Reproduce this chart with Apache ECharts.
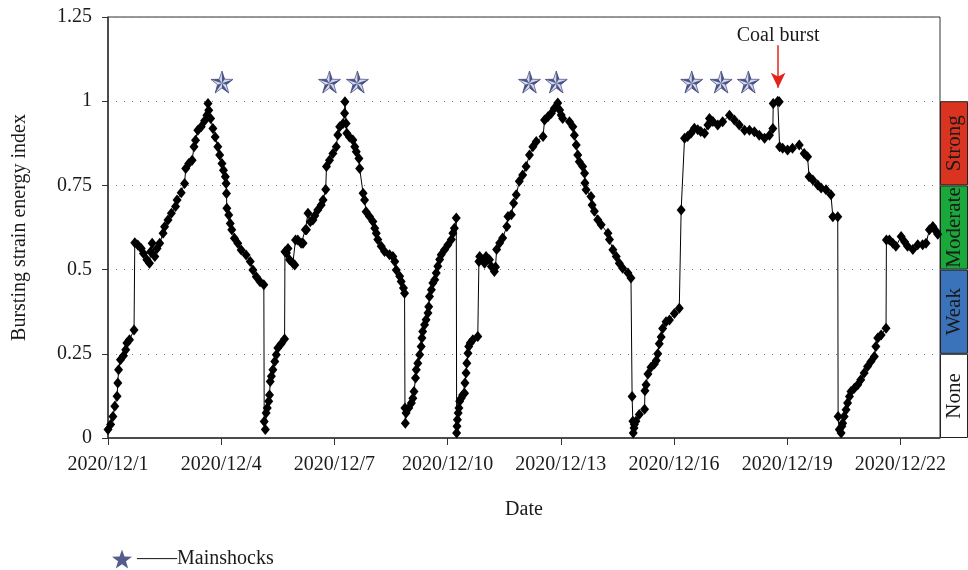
<!DOCTYPE html>
<html>
<head>
<meta charset="utf-8">
<title>Bursting strain energy index</title>
<script src="https://cdn.jsdelivr.net/npm/echarts@6/dist/echarts.min.js"></script>
<style>
  html, body { margin: 0; padding: 0; background: #fff; }
  #chart { width: 968px; height: 570px; }
</style>
</head>
<body>
<div id="chart"></div>
<script>
// Elapsed time in days since 2020/12/1 00:00
const dayOffsets = [
  0.00, 0.07, 0.13, 0.18, 0.24, 0.26, 0.28, 0.33, 0.41, 0.47, 0.50, 0.57, 0.69,
  0.71, 0.79, 0.88, 0.94, 1.03, 1.10, 1.13, 1.17, 1.24, 1.30, 1.37, 1.46, 1.50,
  1.59, 1.68, 1.79, 1.83, 1.94, 2.03, 2.06, 2.14, 2.23, 2.28, 2.32, 2.38, 2.47,
  2.56, 2.62, 2.65, 2.67, 2.72, 2.78, 2.84, 2.91, 2.96, 3.02, 3.06, 3.11, 3.13,
  3.14, 3.15, 3.20, 3.24, 3.28, 3.35, 3.44, 3.53, 3.66, 3.77, 3.84, 3.93, 4.03, 4.13,
  4.14, 4.17, 4.19, 4.22, 4.26, 4.28, 4.30, 4.33, 4.37, 4.42, 4.46, 4.50, 4.59, 4.68,
  4.69, 4.73, 4.77, 4.81, 4.90, 4.95, 4.97, 5.03, 5.12, 5.17, 5.23, 5.26, 5.30, 5.36,
  5.43, 5.48, 5.56, 5.65, 5.70, 5.77, 5.79, 5.87, 5.96, 6.05, 6.09, 6.14, 6.23, 6.27,
  6.28, 6.31, 6.33, 6.40, 6.49, 6.54, 6.58, 6.65, 6.67, 6.76, 6.80, 6.84, 6.93, 7.02,
  7.07, 7.11, 7.15, 7.24, 7.33, 7.46, 7.55, 7.60, 7.64, 7.73, 7.77, 7.83, 7.86,
  7.87, 7.88, 7.90, 7.97, 8.04, 8.08, 8.11, 8.15, 8.17, 8.21, 8.26, 8.30, 8.32, 8.34,
  8.39, 8.43, 8.48, 8.50, 8.52, 8.57, 8.61, 8.66, 8.70, 8.74, 8.79, 8.83, 8.92, 9.01,
  9.10, 9.14, 9.18, 9.23,
  9.24, 9.25, 9.26, 9.28, 9.30, 9.32, 9.36, 9.40, 9.45, 9.46, 9.49, 9.51, 9.54, 9.56,
  9.60, 9.67, 9.80, 9.83, 9.85, 9.92, 9.98, 10.02, 10.11, 10.16, 10.24, 10.27, 10.30,
  10.38, 10.46, 10.57, 10.60, 10.69, 10.75, 10.82, 10.90, 10.99, 11.08, 11.17, 11.26,
  11.35, 11.53, 11.57, 11.66, 11.75, 11.83, 11.92, 11.97, 12.01, 12.05, 12.23, 12.32,
  12.36, 12.41, 12.45, 12.49, 12.58, 12.63, 12.64, 12.67, 12.80, 12.83, 12.89, 12.98,
  13.07, 13.25, 13.29, 13.38, 13.47, 13.55, 13.64, 13.78, 13.86,
  13.89, 13.91, 13.92, 13.94, 13.95, 13.99, 14.08, 14.22, 14.23, 14.26, 14.31, 14.39,
  14.48, 14.53, 14.57, 14.61, 14.66, 14.70, 14.79, 14.88, 15.01, 15.14, 15.19, 15.28,
  15.36, 15.45, 15.54, 15.63, 15.71, 15.81, 15.90, 15.94, 16.03, 16.16, 16.29, 16.47,
  16.60, 16.73, 16.87, 17.00, 17.13, 17.26, 17.40, 17.53, 17.62, 17.63, 17.75, 17.79,
  17.80, 17.88, 18.01, 18.14, 18.32, 18.45, 18.54, 18.58, 18.68, 18.81, 18.90, 19.03,
  19.16, 19.21, 19.34,
  19.35, 19.38, 19.43, 19.45, 19.47, 19.51, 19.56, 19.60, 19.65, 19.69, 19.78, 19.87,
  19.95, 20.04, 20.13, 20.22, 20.31, 20.35, 20.40, 20.49, 20.62, 20.63, 20.71, 20.80,
  20.88, 21.02, 21.11, 21.19, 21.33, 21.46, 21.59, 21.68, 21.77, 21.86, 21.95, 21.99
];

// Bursting strain energy index at each time
const burstIndex = [
  0.025, 0.040, 0.064, 0.094, 0.124, 0.163, 0.203, 0.232, 0.244, 0.262, 0.282, 0.292, 0.321,
  0.580, 0.573, 0.563, 0.548, 0.529, 0.519, 0.553, 0.578, 0.539, 0.563, 0.578, 0.608, 0.627,
  0.647, 0.667, 0.687, 0.707, 0.728, 0.756, 0.800, 0.815, 0.825, 0.865, 0.884, 0.914, 0.924,
  0.942, 0.958, 0.993, 0.973, 0.949, 0.919, 0.894, 0.865, 0.840, 0.815, 0.795, 0.776, 0.756,
  0.726, 0.682, 0.662, 0.637, 0.618, 0.593, 0.578, 0.558, 0.543, 0.524, 0.499, 0.479, 0.464, 0.455,
  0.049, 0.025, 0.074, 0.089, 0.109, 0.128, 0.168, 0.183, 0.203, 0.227, 0.247, 0.267, 0.280, 0.294,
  0.553, 0.549, 0.563, 0.529, 0.519, 0.514, 0.588, 0.588, 0.578, 0.578, 0.618, 0.618, 0.667, 0.642,
  0.647, 0.660, 0.677, 0.692, 0.707, 0.738, 0.806, 0.825, 0.845, 0.865, 0.900, 0.924, 0.934, 0.964,
  0.998, 0.934, 0.905, 0.894, 0.885, 0.865, 0.850, 0.830, 0.800, 0.727, 0.707, 0.672, 0.658, 0.643,
  0.623, 0.608, 0.589, 0.569, 0.554, 0.544, 0.539, 0.524, 0.499, 0.480, 0.465, 0.445, 0.430,
  0.089, 0.044, 0.074, 0.089, 0.104, 0.118, 0.138, 0.178, 0.203, 0.222, 0.247, 0.272, 0.297, 0.316,
  0.336, 0.351, 0.371, 0.390, 0.420, 0.440, 0.460, 0.470, 0.490, 0.510, 0.530, 0.544, 0.559, 0.574,
  0.589, 0.608, 0.623, 0.653,
  0.015, 0.035, 0.054, 0.074, 0.089, 0.109, 0.118, 0.128, 0.133, 0.163, 0.193, 0.222, 0.252, 0.272,
  0.282, 0.292, 0.301, 0.524, 0.539, 0.529, 0.519, 0.539, 0.529, 0.509, 0.494, 0.508, 0.560,
  0.579, 0.594, 0.628, 0.658, 0.663, 0.697, 0.722, 0.762, 0.781, 0.806, 0.840, 0.865,
  0.880, 0.895, 0.944, 0.954, 0.964, 0.979, 0.995, 0.974, 0.959, 0.949, 0.939, 0.924,
  0.899, 0.870, 0.840, 0.820, 0.806, 0.786, 0.757, 0.737, 0.717, 0.692, 0.673, 0.648,
  0.633, 0.608, 0.589, 0.559, 0.539, 0.519, 0.504, 0.490, 0.475,
  0.123, 0.050, 0.015, 0.030, 0.040, 0.050, 0.070, 0.085, 0.140, 0.158, 0.190, 0.210,
  0.220, 0.230, 0.250, 0.280, 0.300, 0.325, 0.345, 0.350, 0.370, 0.385, 0.677, 0.890,
  0.895, 0.905, 0.920, 0.915, 0.910, 0.905, 0.929, 0.949, 0.940, 0.929, 0.939, 0.958,
  0.944, 0.929, 0.914, 0.914, 0.909, 0.899, 0.890, 0.899, 0.919, 0.993, 1.000, 0.998,
  0.865, 0.860, 0.855, 0.860, 0.870, 0.845, 0.835, 0.776, 0.766, 0.751, 0.742, 0.737,
  0.722, 0.657, 0.657,
  0.064, 0.025, 0.015, 0.035, 0.044, 0.064, 0.084, 0.104, 0.123, 0.138, 0.148, 0.158,
  0.173, 0.193, 0.212, 0.227, 0.242, 0.272, 0.297, 0.306, 0.326, 0.588, 0.588, 0.578,
  0.569, 0.598, 0.583, 0.569, 0.560, 0.574, 0.574, 0.578, 0.618, 0.628, 0.613, 0.605
];

// Mainshock times (days since 2020/12/1) and the height their symbols sit at
const mainshockDays = [3.02, 5.87, 6.61, 11.17, 11.88, 15.47, 16.25, 16.97];
const mainshockLevel = 1.057;

// Coal burst arrow: time and its top/bottom heights
const coalBurstDay = 17.76;
const coalBurstArrow = [1.166, 1.04];

// Hazard level bands on the right
const levelNames = ['None', 'Weak', 'Moderate', 'Strong'];
const levelSpans = [0.25, 0.25, 0.25, 0.25];
const levelColors = ['#ffffff', '#3a73ba', '#1aa83b', '#da3320'];

// X tick labels, one every 3 days
const tickStep = 3;
const tickLabels = ['2020/12/1', '2020/12/4', '2020/12/7', '2020/12/10',
  '2020/12/13', '2020/12/16', '2020/12/19', '2020/12/22'];

const FONT = '"Liberation Serif", "DejaVu Serif", serif';
const INK = '#1a1a1a';

// Nautical star: full outline and the dark half of each point
const STAR_FULL = 'path://M0,-10 L2.351,-3.236 L9.511,-3.090 L3.804,1.236 L5.878,8.090 L0,4 L-5.878,8.090 L-3.804,1.236 L-9.511,-3.090 L-2.351,-3.236 Z';
const STAR_DARK = 'path://M0,0 L0,-10 L2.351,-3.236 Z M0,0 L9.511,-3.090 L3.804,1.236 Z M0,0 L5.878,8.090 L0,4 Z M0,0 L-5.878,8.090 L-3.804,1.236 Z M0,0 L-9.511,-3.090 L-2.351,-3.236 Z';

const seriesData = dayOffsets.map((d, i) => [d, burstIndex[i]]);
const starData = mainshockDays.map(d => [d, mainshockLevel]);

const chart = echarts.init(document.getElementById('chart'), null, { renderer: 'canvas' });

const levelSeries = levelNames.map((name, i) => ({
  type: 'bar',
  name: name,
  xAxisIndex: 1,
  yAxisIndex: 1,
  stack: 'level',
  barWidth: '100%',
  data: [levelSpans[i]],
  silent: true,
  itemStyle: { color: levelColors[i], borderColor: '#222', borderWidth: 1 },
  label: {
    show: true,
    position: 'inside',
    rotate: 90,
    formatter: name,
    fontFamily: FONT,
    fontSize: 21,
    color: INK
  }
}));

chart.setOption({
  animation: false,
  backgroundColor: '#ffffff',
  textStyle: { fontFamily: FONT },
  grid: [
    { left: 108, right: 28, top: 17, bottom: 132, show: true, borderColor: '#333', borderWidth: 1, backgroundColor: 'transparent' },
    { left: 940, width: 30, top: 17, bottom: 132 }
  ],
  legend: {
    data: ['Mainshocks'],
    left: 107,
    top: 544,
    icon: STAR_FULL,
    itemWidth: 20,
    itemHeight: 20,
    formatter: name => '——' + name,
    textStyle: { fontFamily: FONT, fontSize: 20, color: INK }
  },
  xAxis: [
    {
      type: 'value',
      gridIndex: 0,
      min: 0,
      max: 22.05,
      interval: tickStep,
      name: 'Date',
      nameLocation: 'middle',
      nameGap: 62,
      nameTextStyle: { fontFamily: FONT, fontSize: 20, color: INK },
      axisLine: { show: true, lineStyle: { color: '#333', width: 1.5 } },
      axisTick: { show: true, inside: false, length: 7, lineStyle: { color: '#333' } },
      axisLabel: {
        fontFamily: FONT, fontSize: 20, color: INK, margin: 17,
        showMaxLabel: false,
        formatter: v => {
          const k = Math.round(v / tickStep);
          return Math.abs(v - k * tickStep) < 1e-6 && tickLabels[k] ? tickLabels[k] : '';
        }
      },
      splitLine: { show: false }
    },
    {
      type: 'category',
      gridIndex: 1,
      data: [''],
      show: false
    }
  ],
  yAxis: [
    {
      type: 'value',
      gridIndex: 0,
      min: 0,
      max: 1.25,
      interval: 0.25,
      name: 'Bursting strain energy index',
      nameLocation: 'middle',
      nameGap: 78,
      nameTextStyle: { fontFamily: FONT, fontSize: 20, color: INK },
      axisLine: { show: true, lineStyle: { color: '#333', width: 1.5 } },
      axisTick: { show: true, inside: false, length: 6, lineStyle: { color: '#333' } },
      axisLabel: {
        fontFamily: FONT, fontSize: 20, color: INK, margin: 16,
        formatter: v => String(+v.toFixed(2))
      },
      splitLine: { show: true, lineStyle: { color: '#777', type: [1, 7], width: 1 } }
    },
    {
      type: 'value',
      gridIndex: 1,
      min: 0,
      max: 1.25,
      show: false,
      splitLine: { show: false }
    }
  ],
  series: [
    {
      type: 'line',
      name: 'Bursting strain energy index',
      data: seriesData,
      symbol: 'diamond',
      symbolSize: [9, 11],
      showAllSymbol: true,
      itemStyle: { color: '#000' },
      lineStyle: { color: '#000', width: 1 },
      z: 3,
      markLine: {
        silent: true,
        animation: false,
        symbol: ['none', 'arrow'],
        symbolSize: [11, 15],
        lineStyle: { color: '#e3241b', width: 1.5, type: 'solid' },
        label: {
          show: true,
          position: 'start',
          formatter: 'Coal burst',
          fontFamily: FONT,
          fontSize: 20,
          color: INK,
          distance: 0
        },
        data: [[
          { coord: [coalBurstDay, coalBurstArrow[0]] },
          { coord: [coalBurstDay, coalBurstArrow[1]] }
        ]]
      }
    },
    {
      type: 'scatter',
      name: 'Mainshock body',
      data: starData,
      symbol: STAR_FULL,
      symbolSize: 22,
      itemStyle: { color: '#c9cfe6', borderColor: '#2a336f', borderWidth: 0.8 },
      z: 4,
      silent: true
    },
    {
      type: 'scatter',
      name: 'Mainshocks',
      data: starData,
      symbol: STAR_DARK,
      symbolSize: 22,
      itemStyle: { color: '#2a336f' },
      z: 5,
      silent: true
    },
    ...levelSeries
  ]
});
</script>
</body>
</html>
